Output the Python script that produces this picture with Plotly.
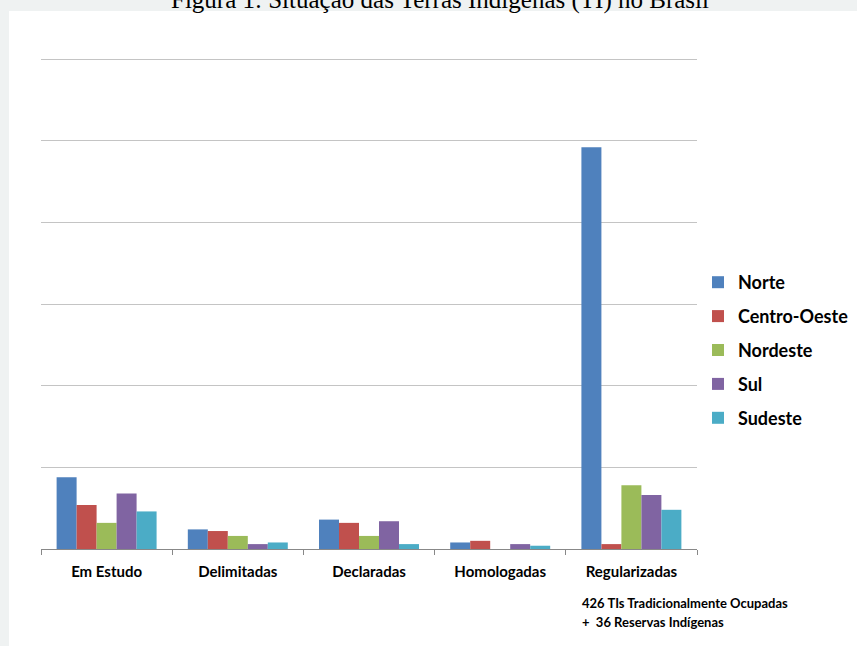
import plotly.graph_objects as go

categories = ["Em Estudo", "Delimitadas", "Declaradas", "Homologadas", "Regularizadas"]
regions = ["Norte", "Centro-Oeste", "Nordeste", "Sul", "Sudeste"]
norte = [44, 12, 18, 4, 246]
centro_oeste = [27, 11, 16, 5, 3]
nordeste = [16, 8, 8, 0, 39]
sul = [34, 3, 17, 3, 33]
sudeste = [23, 4, 3, 2, 24]
series = [norte, centro_oeste, nordeste, sul, sudeste]
colors = ["#4F81BD", "#C0504D", "#9BBB59", "#8064A2", "#4BACC6"]

title_text = "Figura 1: Situação das Terras Indígenas (TI) no Brasil"
note_lines = ["426 TIs Tradicionalmente Ocupadas", "+  36 Reservas Indígenas"]

fig = go.Figure()
for name, vals, col in zip(regions, series, colors):
    fig.add_trace(go.Bar(x=categories, y=vals, name=name, marker_color=col,
                         marker_line_width=0, legendgroup=name))

W, H = 857, 646
ml, mr, mt, mb = 41, 160, 52, 97
pw, ph = W - ml - mr, H - mt - mb
ymax = 300 * ph / (ph - 7)

def px_x(px):
    return (px - ml) / pw

def px_y(py):
    return (H - mb - py) / ph

fig.update_layout(
    width=W, height=H,
    margin=dict(l=ml, r=mr, t=mt, b=mb, pad=0, autoexpand=False),
    paper_bgcolor="#eff2f2",
    plot_bgcolor="rgba(0,0,0,0)",
    barmode="group", bargap=0.238, bargroupgap=0,
    font=dict(family="Lato", size=15, color="black"),
    showlegend=True,
    legend=dict(x=px_x(698), y=px_y(264), xanchor="left", yanchor="top",
                font=dict(family="Lato", size=18, weight="bold", color="black"),
                bgcolor="rgba(0,0,0,0)", tracegroupgap=7.5, itemwidth=30),
    xaxis=dict(showline=True, linecolor="#888888", linewidth=1,
               ticks="outside", tickson="boundaries", ticklen=5, tickcolor="#888888",
               tickfont=dict(family="Lato", size=15, weight="bold", color="black"),
               ticklabelstandoff=9, showgrid=False, fixedrange=True),
    yaxis=dict(range=[0, ymax], tick0=0, dtick=50, showgrid=True, gridcolor="#c4c4c4",
               gridwidth=1.4, showticklabels=False, zeroline=False, showline=False,
               fixedrange=True),
    shapes=[dict(type="rect", xref="paper", yref="paper",
                 x0=px_x(9), x1=px_x(W + 5), y0=px_y(11), y1=px_y(H + 5),
                 fillcolor="white", line_width=0, layer="below")],
    annotations=[
        dict(text=title_text, xref="paper", yref="paper", x=px_x(440), y=px_y(0),
             xanchor="center", yanchor="middle", showarrow=False,
             font=dict(family="Liberation Serif", size=25, color="black")),
        dict(text=note_lines[0], xref="paper", yref="paper", x=px_x(580), y=px_y(603),
             xanchor="left", yanchor="middle", showarrow=False,
             font=dict(family="Lato", size=13, weight="bold", color="black")),
        dict(text=note_lines[1], xref="paper", yref="paper", x=px_x(580), y=px_y(622),
             xanchor="left", yanchor="middle", showarrow=False,
             font=dict(family="Lato", size=13, weight="bold", color="black")),
    ],
)

fig.write_html("out.html")
